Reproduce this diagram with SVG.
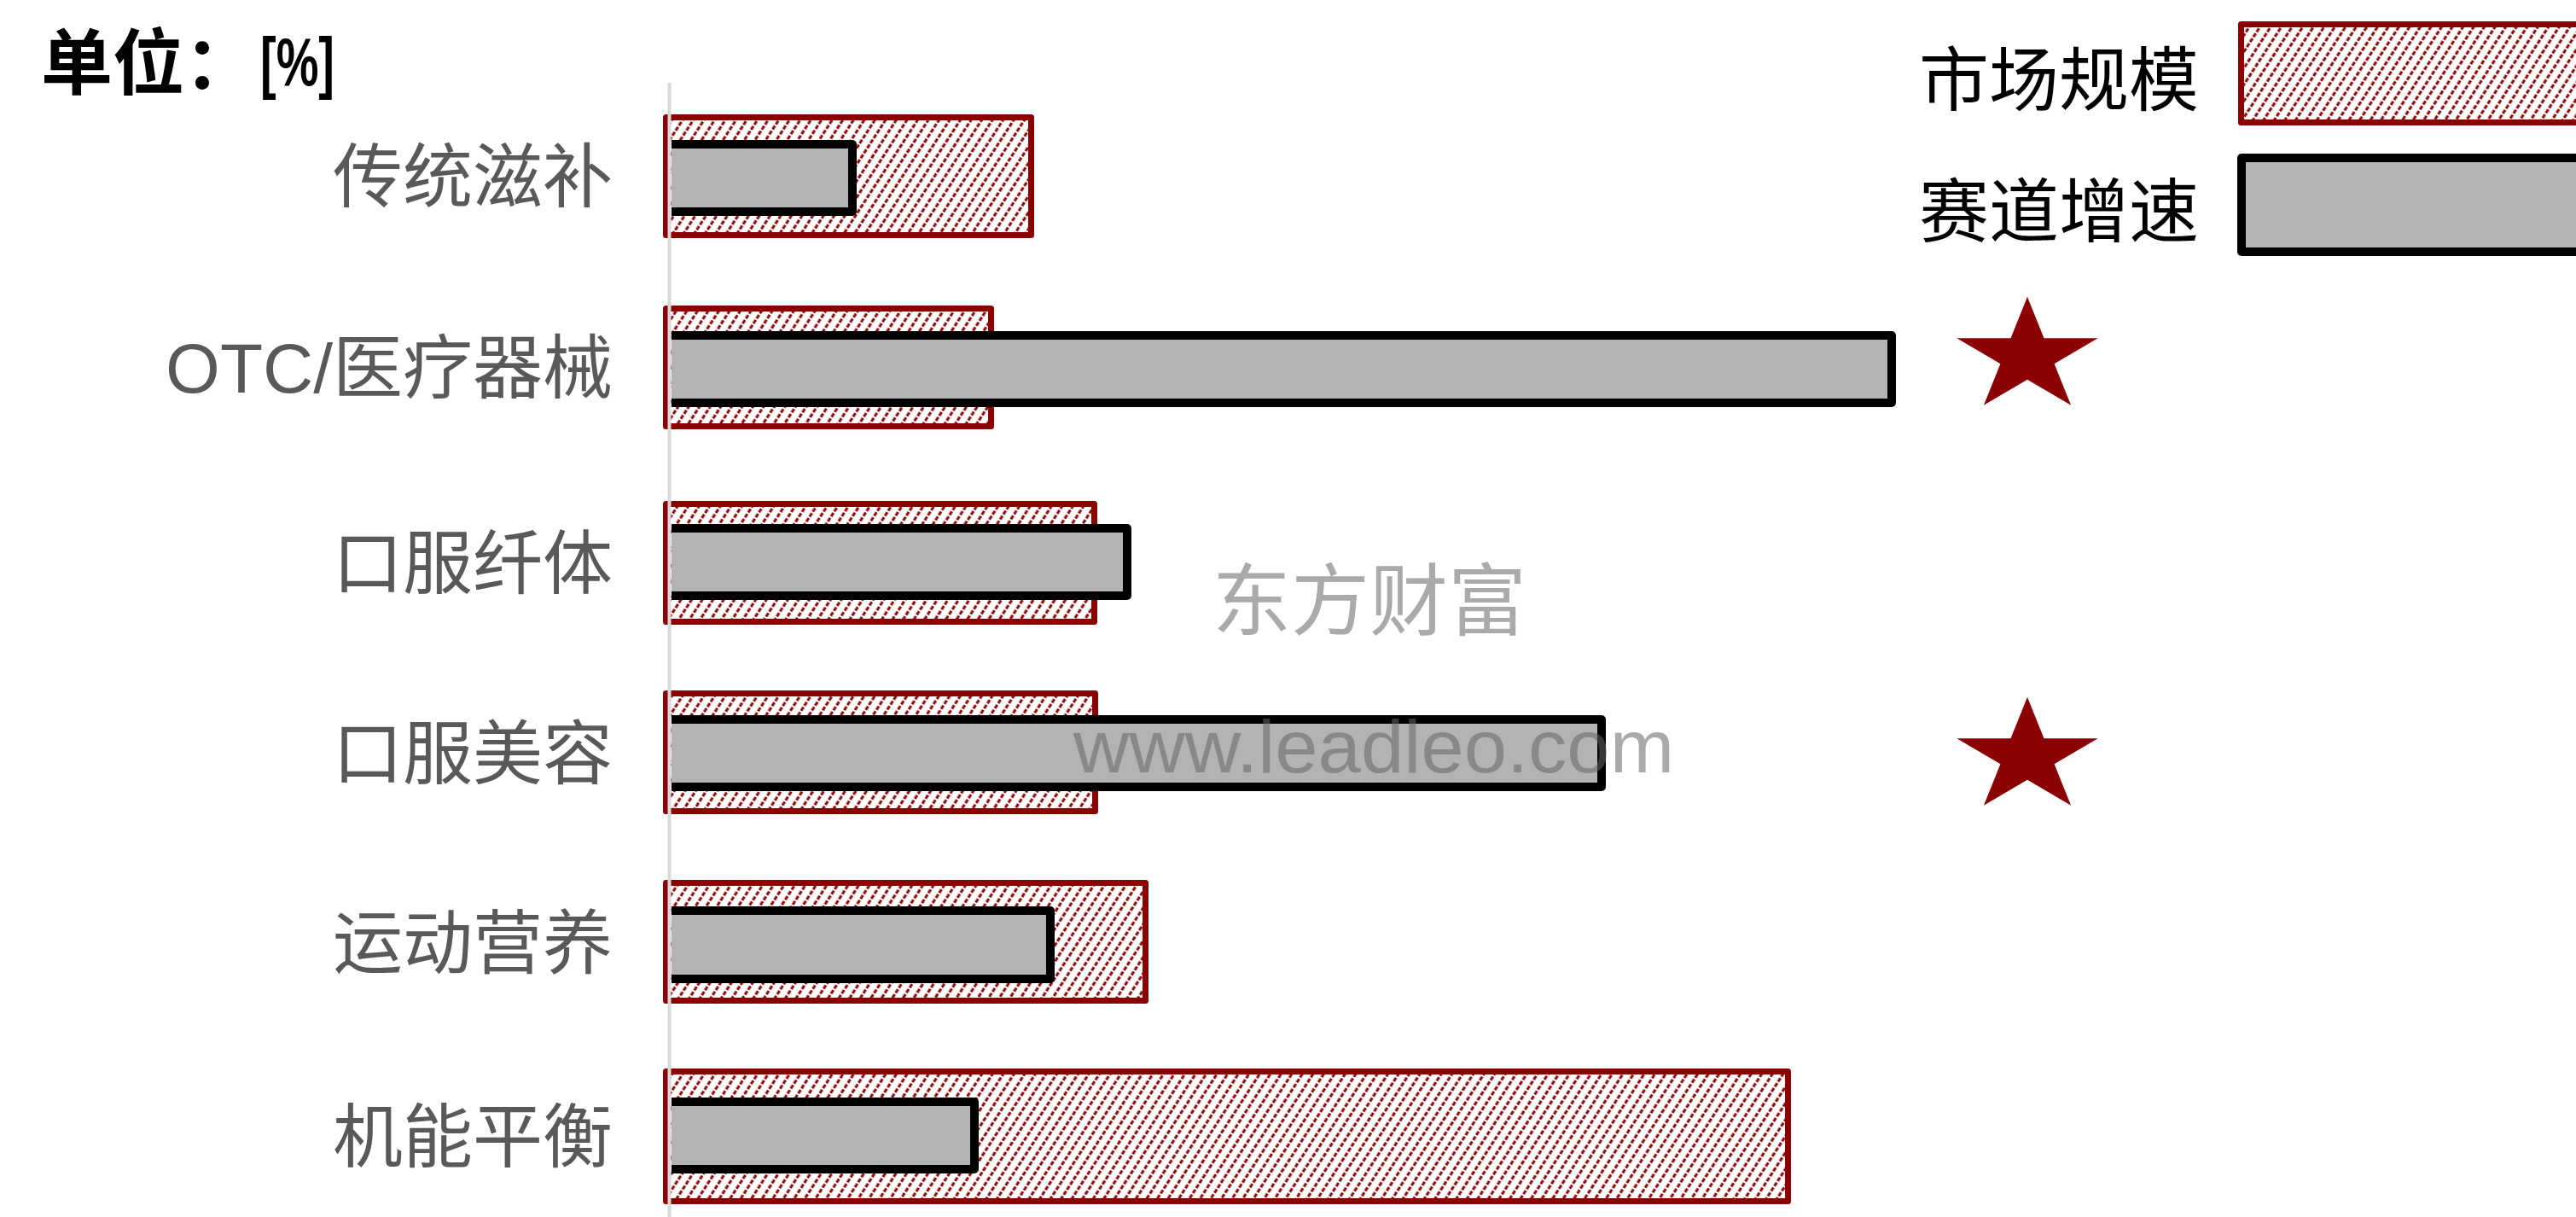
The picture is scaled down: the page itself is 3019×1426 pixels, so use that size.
<svg xmlns="http://www.w3.org/2000/svg" width="3019" height="1426" viewBox="0 0 3019 1426">
  <style>
    .lbl { font-family: "Noto Sans CJK SC", "Noto Sans", sans-serif; font-size: 82px; fill: #595959; text-anchor: end; }
    .lat { font-family: "Liberation Sans", Arial, sans-serif; }
    .leg { font-family: "Noto Sans CJK SC", "Noto Sans", sans-serif; font-size: 82px; fill: #000; }
    .mkt { fill: url(#hatch); stroke: #8B0000; stroke-width: 7; stroke-linejoin: round; }
    .gro { fill: #B3B3B3; stroke: #000; stroke-width: 10; stroke-linejoin: round; }
    .wm { fill: #656565; fill-opacity: 0.55; }
  </style>
  <defs>
    <pattern id="hatch" width="10.5" height="21" patternUnits="userSpaceOnUse" patternTransform="rotate(33)">
      <rect width="10.5" height="21" fill="#fff"/>
      <line x1="2" y1="0" x2="2" y2="21" stroke="#8B0000" stroke-width="3" stroke-dasharray="5 2"/>
    </pattern>
    <polygon id="star" fill="#8B0000" points="0,-70.2 19.5,-21.7 82.7,-21.7 31.6,8.3 51.1,56.8 0,26.8 -51.1,56.8 -31.6,8.3 -82.7,-21.7 -19.5,-21.7"/>
  </defs>
  <rect width="3019" height="1426" fill="#fff"/>

  <g id="title">
    <text x="48" y="104" font-family="Noto Sans CJK SC, sans-serif" font-weight="700" font-size="84" fill="#000">单位：</text>
    <text x="305" y="100" font-family="Liberation Sans, Arial, sans-serif" font-weight="700" font-size="80" fill="#000" textLength="87" lengthAdjust="spacingAndGlyphs">[%]</text>
  </g>

  <g id="legend">
    <text class="leg" x="2249" y="123">市场规模</text>
    <rect class="mkt" x="2626.5" y="28.5" width="420" height="115"/>
    <text class="leg" x="2249" y="277">赛道增速</text>
    <rect class="gro" x="2627" y="185" width="420" height="110"/>
  </g>

  <g id="market-bars">
    <rect class="mkt" x="780.5" y="137.5" width="428" height="138"/>
    <rect class="mkt" x="780.5" y="361.5" width="381" height="138"/>
    <rect class="mkt" x="780.5" y="590.5" width="502" height="138"/>
    <rect class="mkt" x="780.5" y="812.5" width="503" height="138"/>
    <rect class="mkt" x="780.5" y="1034.5" width="562" height="138"/>
    <rect class="mkt" x="780.5" y="1255.5" width="1315" height="152"/>
  </g>

  <g id="axis">
    <line x1="784.5" y1="97" x2="784.5" y2="1426" stroke="#D9D9D9" stroke-width="4"/>
  </g>

  <g id="growth-bars">
    <path class="gro" d="M787,169 H999 V248 H787"/>
    <path class="gro" d="M787,393 H2217 V472 H787"/>
    <path class="gro" d="M787,619 H1321 V698 H787"/>
    <path class="gro" d="M787,843 H1877 V922 H787"/>
    <path class="gro" d="M787,1067 H1231 V1147 H787"/>
    <path class="gro" d="M787,1291 H1142 V1370 H787"/>
  </g>

  <g id="labels">
    <text class="lbl" x="718" y="236">传统滋补</text>
    <text class="lbl" x="718" y="460"><tspan class="lat">OTC/</tspan>医疗器械</text>
    <text class="lbl" x="718" y="689">口服纤体</text>
    <text class="lbl" x="718" y="912">口服美容</text>
    <text class="lbl" x="718" y="1134">运动营养</text>
    <text class="lbl" x="718" y="1361">机能平衡</text>
  </g>

  <g id="stars">
    <use href="#star" transform="translate(2376,418)"/>
    <use href="#star" transform="translate(2376,887)"/>
  </g>

  <g id="watermark">
    <text class="wm" x="1421" y="737" font-family="Noto Sans CJK SC, sans-serif" font-size="92">东方财富</text>
    <text class="wm" x="1258" y="905" font-family="Liberation Sans, Arial, sans-serif" font-size="87" textLength="704" lengthAdjust="spacingAndGlyphs">www.leadleo.com</text>
  </g>
</svg>
